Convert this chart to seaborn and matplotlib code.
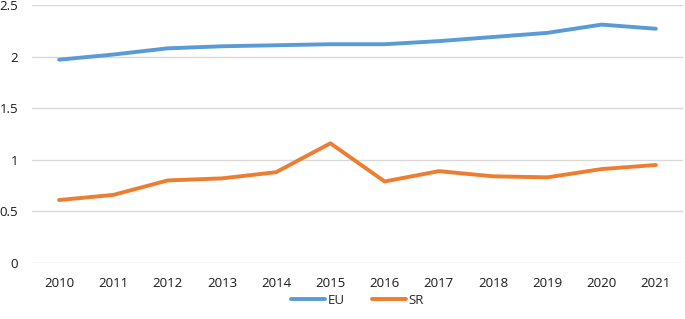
import matplotlib
matplotlib.use("Agg")
import matplotlib.pyplot as plt
import seaborn as sns
import pandas as pd

years = ["2010", "2011", "2012", "2013", "2014", "2015", "2016", "2017", "2018", "2019", "2020", "2021"]
eu = [1.97, 2.02, 2.08, 2.10, 2.11, 2.12, 2.12, 2.15, 2.19, 2.23, 2.31, 2.27]
sr = [0.61, 0.66, 0.80, 0.82, 0.88, 1.16, 0.79, 0.89, 0.84, 0.83, 0.91, 0.95]
series = ["EU", "SR"]
colors = ["#5B9BD5", "#ED7D31"]
yticks = [0, 0.5, 1, 1.5, 2, 2.5]
ytick_labels = ["0", "0.5", "1", "1.5", "2", "2.5"]

df = pd.concat([
    pd.DataFrame({"year": years, "value": eu, "series": "EU"}),
    pd.DataFrame({"year": years, "value": sr, "series": "SR"}),
])

sns.set_style("white")
plt.rcParams["font.family"] = ["Open Sans", "DejaVu Sans"]

fig = plt.figure(figsize=(6.85, 3.19), dpi=100)
ax = fig.add_axes([32 / 685, 1 - 263 / 319, 651 / 685, 258 / 319])

sns.lineplot(data=df, x="year", y="value", hue="series", hue_order=series,
             palette=colors, linewidth=2.8, ax=ax, sort=False,
             solid_capstyle="round", solid_joinstyle="round")

ax.set_xlim(-0.5, len(years) - 0.5)
ax.set_ylim(0, 2.5)
ax.set_yticks(yticks)
ax.set_yticklabels(ytick_labels)
ax.grid(axis="y", color="#D9D9D9", linewidth=1)
ax.set_axisbelow(True)
for s in ax.spines.values():
    s.set_visible(False)
ax.set_xlabel("")
ax.set_ylabel("")
ax.tick_params(axis="both", length=0, labelsize=9.5, labelcolor="#1a1a1a")
ax.tick_params(axis="x", pad=10)
ax.tick_params(axis="y", pad=10)

handles, labels = ax.get_legend_handles_labels()
ax.legend(handles, labels, loc="center", bbox_to_anchor=(0.5, -0.145),
          ncol=2, frameon=False, fontsize=9.5, handlelength=2.6,
          handletextpad=0.2, columnspacing=2.0)

fig.savefig("out.png", dpi=100)
